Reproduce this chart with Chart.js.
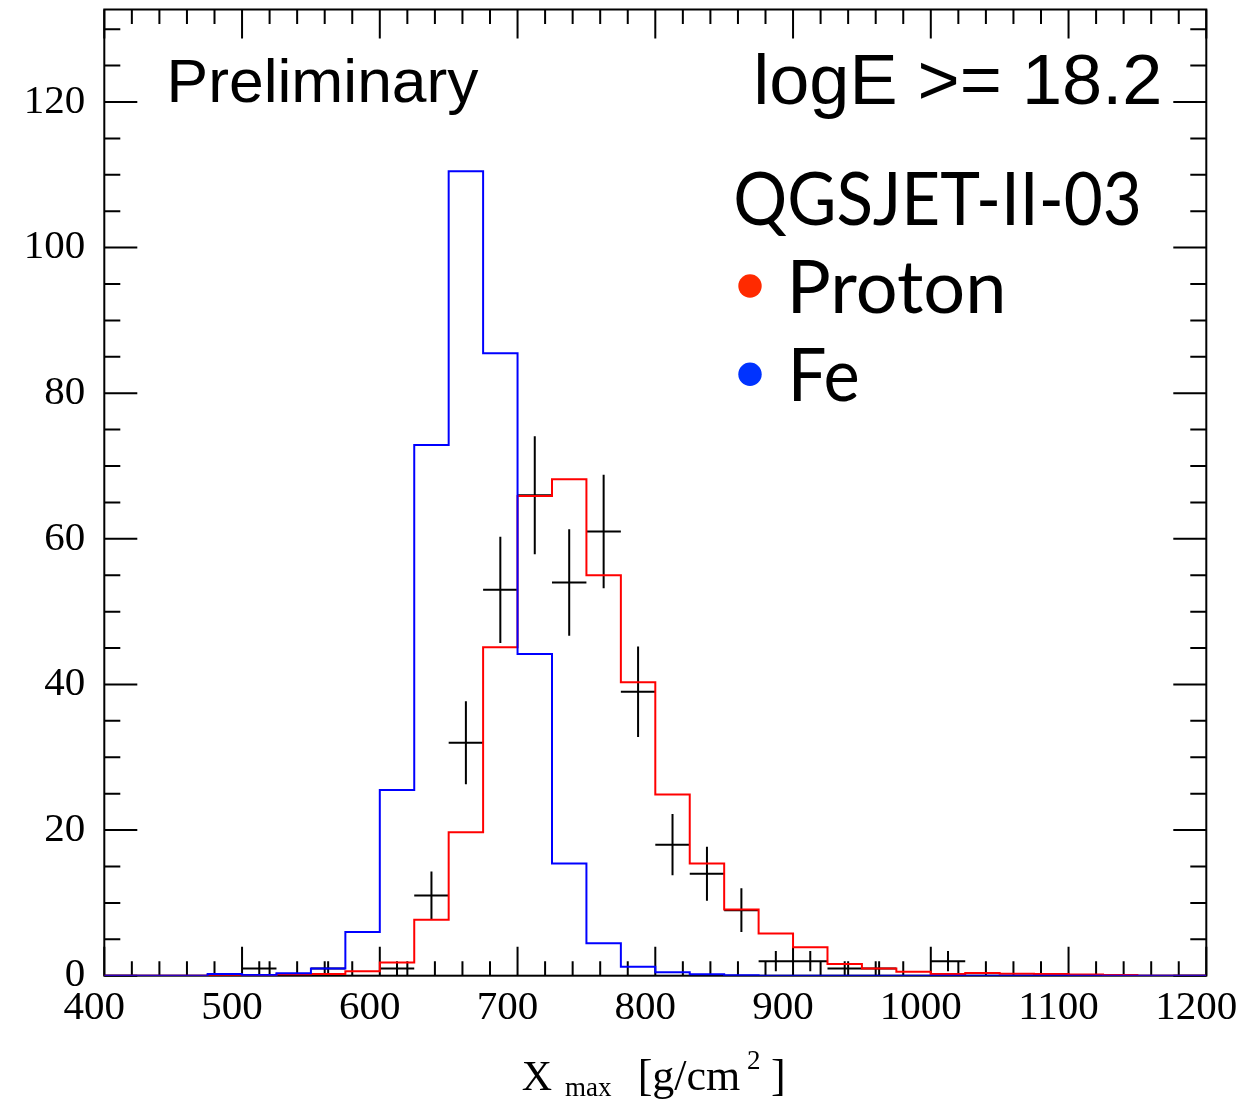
<!DOCTYPE html>
<html>
<head>
<meta charset="utf-8">
<script src="https://cdn.jsdelivr.net/npm/chart.js@4.4.0/dist/chart.umd.min.js"></script>
<style>
html,body{margin:0;padding:0;background:#fff;overflow:hidden}
#wrap{position:relative;width:1252px;height:1102px}
</style>
</head>
<body>
<div id="wrap"><canvas id="c" width="1252" height="1102"></canvas></div>
<script>
// ---------------- data ----------------
const binEdgeStart = 400;
const binWidth = 25;
// 32 bins, 400 .. 1200 g/cm^2
const feCounts = [0, 0, 0, 0.25, 0.1, 0.35, 1.0, 6.0, 25.5, 72.9, 110.5, 85.5, 44.2, 15.4, 4.45, 1.24,
                  0.46, 0.19, 0.05, 0, 0, 0, 0, 0, 0, 0, 0, 0, 0, 0, 0, 0];
const protonCounts = [0, 0, 0, 0.1, 0.1, 0.2, 0.25, 0.6, 1.8, 7.7, 19.7, 45.1, 65.9, 68.2, 55.0, 40.3,
                      24.9, 15.4, 9.1, 5.8, 3.9, 1.6, 1.0, 0.55, 0.23, 0.37, 0.27, 0.23, 0.18, 0.1, 0, 0];
const dataX   = [512.5, 562.5, 612.5, 637.5, 662.5, 687.5, 712.5, 737.5, 762.5, 787.5, 812.5, 837.5, 862.5, 887.5, 912.5, 937.5, 962.5, 1012.5];
const dataY   = [1, 1, 1, 11, 32, 53, 66, 54, 61, 39, 18, 14, 9, 2, 2, 1, 1, 2];
const dataErr = [1, 1, 1, 3.3, 5.7, 7.3, 8.1, 7.3, 7.8, 6.2, 4.2, 3.7, 3, 1.4, 1.4, 1, 1, 1.4];
const xTickValues = [400, 500, 600, 700, 800, 900, 1000, 1100, 1200];
const yTickValues = [0, 20, 40, 60, 80, 100, 120];
const xMinorStep = 20;
const yMinorStep = 5;
const seriesLabels = ['Proton', 'Fe'];
const legendDotColors = ['#ff2a00', '#0033ff'];

// ---------------- helpers ----------------
function stepPoints(counts) {
  const pts = counts.map((v, i) => ({x: binEdgeStart + i * binWidth, y: v}));
  pts.push({x: binEdgeStart + counts.length * binWidth, y: counts[counts.length - 1]});
  return pts;
}
function drawFit(ctx, text, x0, x1, baseline, font) {
  ctx.save();
  ctx.font = font;
  ctx.textAlign = 'left';
  ctx.textBaseline = 'alphabetic';
  const m = ctx.measureText(text);
  const inkW = m.actualBoundingBoxRight + m.actualBoundingBoxLeft;
  const s = (x1 - x0) / inkW;
  ctx.translate(x0, baseline);
  ctx.scale(s, 1);
  ctx.fillText(text, m.actualBoundingBoxLeft, 0);
  ctx.restore();
}
function drawAt(ctx, text, x0, baseline, font) {
  ctx.save();
  ctx.font = font;
  ctx.textAlign = 'left';
  ctx.textBaseline = 'alphabetic';
  const m = ctx.measureText(text);
  ctx.fillText(text, x0 + m.actualBoundingBoxLeft, baseline);
  ctx.restore();
}

// frame + inside ticks (ROOT style) and error-bar crosses
const framePlugin = {
  id: 'frameTicks',
  beforeDatasetsDraw(chart) {
    const ctx = chart.ctx;
    const a = chart.chartArea;
    const xs = chart.scales.x, ys = chart.scales.y;
    ctx.save();
    ctx.strokeStyle = '#000';
    ctx.lineWidth = 2;
    ctx.strokeRect(a.left, a.top, a.right - a.left, a.bottom - a.top);
    ctx.beginPath();
    for (let v = xs.min; v <= xs.max + 1e-6; v += xMinorStep) {
      const px = xs.getPixelForValue(v);
      const major = xTickValues.includes(Math.round(v));
      const len = major ? 29 : 14.5;
      ctx.moveTo(px, a.bottom); ctx.lineTo(px, a.bottom - len);
      ctx.moveTo(px, a.top); ctx.lineTo(px, a.top + len);
    }
    for (let v = 0; v <= ys.max + 1e-6; v += yMinorStep) {
      const py = ys.getPixelForValue(v);
      const major = yTickValues.includes(Math.round(v));
      const len = major ? 33 : 16;
      ctx.moveTo(a.left, py); ctx.lineTo(a.left + len, py);
      ctx.moveTo(a.right, py); ctx.lineTo(a.right - len, py);
    }
    ctx.stroke();

    const meta = chart.getDatasetMeta(2);
    ctx.beginPath();
    meta.data.forEach((pt, i) => {
      const xl = xs.getPixelForValue(dataX[i] - binWidth / 2);
      const xr = xs.getPixelForValue(dataX[i] + binWidth / 2);
      const yt = ys.getPixelForValue(dataY[i] + dataErr[i]);
      const yb = ys.getPixelForValue(Math.max(0, dataY[i] - dataErr[i]));
      ctx.moveTo(xl, pt.y); ctx.lineTo(xr, pt.y);
      ctx.moveTo(pt.x, yt); ctx.lineTo(pt.x, yb);
    });
    ctx.stroke();
    ctx.restore();
  },
  afterDraw(chart) {
    const ctx = chart.ctx;
    ctx.save();
    ctx.fillStyle = '#000';
    drawFit(ctx, 'Preliminary', 171.7, 479, 101.7, '61px "Liberation Sans"');
    drawFit(ctx, 'logE >= 18.2', 757.3, 1159.3, 104, '70px "Liberation Sans"');
    drawFit(ctx, 'QGSJET-II-03', 736, 1138.3, 225, '74px Lato');
    drawFit(ctx, seriesLabels[0], 792.7, 1001.7, 313.3, '73px Lato');
    drawFit(ctx, seriesLabels[1], 793.3, 857.3, 400.7, '73px Lato');
    ctx.fillStyle = legendDotColors[0];
    ctx.beginPath(); ctx.arc(750, 286, 11.7, 0, Math.PI * 2); ctx.fill();
    ctx.fillStyle = legendDotColors[1];
    ctx.beginPath(); ctx.arc(750, 374.3, 11.7, 0, Math.PI * 2); ctx.fill();
    ctx.fillStyle = '#000';
    drawAt(ctx, 'X', 521.7, 1090, '42px "Liberation Serif"');
    drawAt(ctx, 'max', 565, 1096, '27px "Liberation Serif"');
    drawAt(ctx, '[g/cm', 640.7, 1090, '44px "Liberation Serif"');
    drawAt(ctx, '2', 748, 1069, '27px "Liberation Serif"');
    drawAt(ctx, ']', 772, 1090, '44px "Liberation Serif"');
    ctx.restore();
  }
};

const tickFont = {family: '"Liberation Serif"', size: 41};

new Chart(document.getElementById('c'), {
  type: 'line',
  data: {
    datasets: [
      {label: seriesLabels[0], data: stepPoints(protonCounts), stepped: 'before', borderColor: '#ff0000',
       borderWidth: 2, pointRadius: 0, fill: false, order: 2},
      {label: seriesLabels[1], data: stepPoints(feCounts), stepped: 'before', borderColor: '#0000ff',
       borderWidth: 2, pointRadius: 0, fill: false, order: 1},
      {label: 'Data', type: 'scatter', data: dataX.map((x, i) => ({x: x, y: dataY[i]})), showLine: false,
       pointRadius: 0, borderColor: '#000', backgroundColor: '#000', order: 3}
    ]
  },
  options: {
    responsive: false,
    animation: false,
    devicePixelRatio: 1,
    layout: {padding: {left: 0, right: 45.7, top: 9.5, bottom: 0}},
    plugins: {legend: {display: false}, tooltip: {enabled: false}},
    scales: {
      x: {
        type: 'linear', min: 400, max: 1200,
        afterBuildTicks: s => { s.ticks = xTickValues.map(v => ({value: v})); },
        afterFit: s => { s.height = 126.3; s.paddingLeft = 0; s.paddingRight = 0; s.paddingTop = 0; s.paddingBottom = 0; },
        grid: {display: false, drawTicks: false},
        border: {display: false},
        ticks: {font: tickFont, color: '#000', padding: 8, autoSkip: false, maxRotation: 0, minRotation: 0,
                labelOffset: -10, callback: v => String(v)}
      },
      y: {
        type: 'linear', min: 0, max: 132.7,
        afterBuildTicks: s => { s.ticks = yTickValues.map(v => ({value: v})); },
        afterFit: s => { s.width = 104.3; s.paddingLeft = 0; s.paddingRight = 0; s.paddingTop = 0; s.paddingBottom = 0; },
        grid: {display: false, drawTicks: false},
        border: {display: false},
        ticks: {font: tickFont, color: '#000', padding: 19, callback: v => String(v)}
      }
    }
  },
  plugins: [framePlugin]
});
</script>
</body>
</html>
